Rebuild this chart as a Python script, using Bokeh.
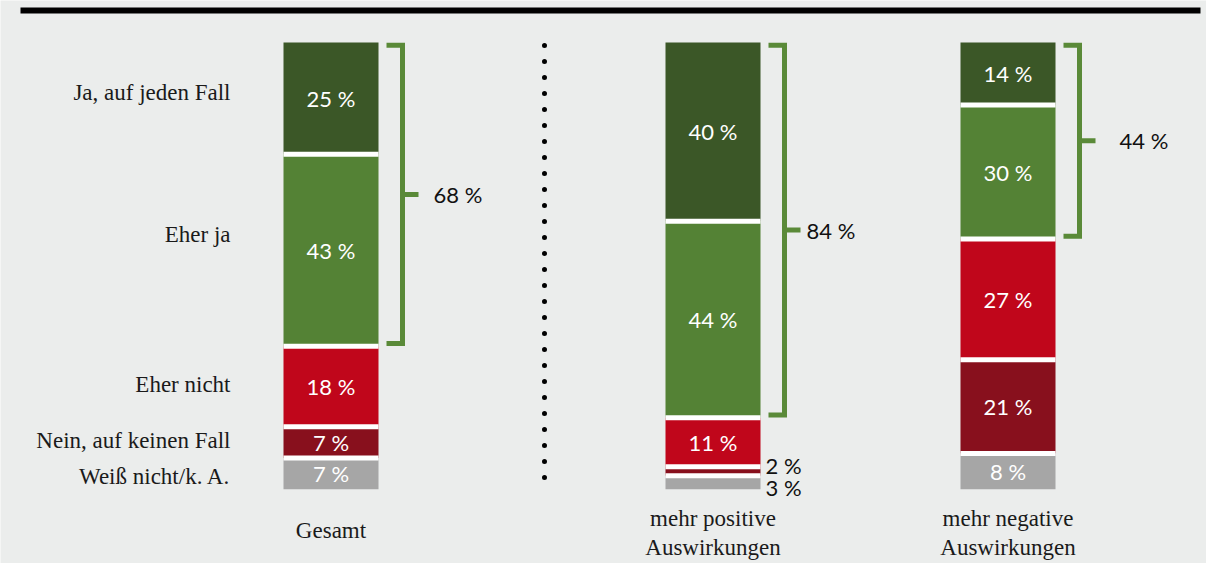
import numpy as np
from bokeh.plotting import figure
from bokeh.models import Range1d, ColumnDataSource
from bokeh.core.properties import value
from bokeh.embed import file_html
from bokeh.resources import INLINE

# ---------------- data ----------------
answers = ["Ja, auf jeden Fall", "Eher ja", "Eher nicht", "Nein, auf keinen Fall", "Weiß nicht/k. A."]
groups = ["Gesamt", "mehr positive\nAuswirkungen", "mehr negative\nAuswirkungen"]
gesamt = [25, 43, 18, 7, 7]
mehr_positive = [40, 44, 11, 2, 3]
mehr_negative = [14, 30, 27, 21, 8]

# ---------------- style / layout ----------------
colors = ["#3B5727", "#548235", "#C0061B", "#88101D", "#A6A6A6"]
bracket_color = "#5A8A38"
bg = "#EBEDEC"
bar_x = [330.5, 712.5, 1007.5]       # bar centres (x axis in page pixels)
bar_w = 95
sum_label_dx = [55, 46, 64]           # distance of the bracket label from bar edge
cat_label_dy = [-6, -16, -2, -2, 3]   # fine tuning of the left answer labels
W, H = 1206, 563
PX = 4.467                            # pixels per percentage point
TOP_PAGE = 42                         # page y of the 100 % line
label_font = value("Lato")
serif = value("Liberation Serif")

def y_of(page_y):
    return 100 - (page_y - TOP_PAGE) / PX

p = figure(width=W, height=H, output_backend="svg", toolbar_location=None,
           x_range=Range1d(0, W), y_range=Range1d(y_of(H), y_of(0)),
           min_border=0, outline_line_color=None,
           background_fill_color=bg, border_fill_color=bg)
p.xaxis.visible = False
p.yaxis.visible = False
p.grid.visible = False

series = [gesamt, mehr_positive, mehr_negative]

# bars
for gx, vals in zip(bar_x, series):
    vals = np.array(vals, dtype=float)
    tops = 100 - np.concatenate([[0], np.cumsum(vals)[:-1]])
    bottoms = tops - vals
    src = ColumnDataSource(dict(x=[gx] * len(vals), top=tops, bottom=bottoms, color=colors))
    p.vbar(x="x", width=bar_w, top="top", bottom="bottom", fill_color="color",
           line_color=None, source=src)
    # white separators at internal boundaries
    inner = bottoms[:-1]
    p.segment(x0=[gx - bar_w / 2] * len(inner), x1=[gx + bar_w / 2] * len(inner),
              y0=inner, y1=inner, line_color="white", line_width=5)

    # value labels
    mids = (tops + bottoms) / 2
    small = vals < 5
    lab = [f"{int(v)} %" for v in vals]
    ins = ~small
    p.text(x=[gx] * int(ins.sum()), y=mids[ins], text=[l for l, s in zip(lab, small) if not s],
           text_color="white", text_font=label_font, text_font_size="22px",
           text_align="center", text_baseline="middle")
    if small.any():
        idx = np.where(small)[0]
        offs = [-6 if k == 0 else 5 for k in range(len(idx))]
        p.text(x=[gx + bar_w / 2 + 5] * len(idx), y=mids[idx], text=[lab[i] for i in idx],
               y_offset=offs, text_color="#111111", text_font=label_font,
               text_font_size="22px", text_align="left", text_baseline="middle")

    # bracket around the two "yes" answers
    yes = vals[0] + vals[1]
    right = gx + bar_w / 2
    inset = 0.6
    ytop, ybot = 100 - inset, 100 - yes + inset
    vx = right + 24
    p.line(x=[right + 8, vx, vx, right + 8], y=[ytop, ytop, ybot, ybot],
           line_color=bracket_color, line_width=5, line_join="miter")
    ymid = (ytop + ybot) / 2
    p.line(x=[vx, vx + 16], y=[ymid, ymid], line_color=bracket_color, line_width=5)

for gx, vals, dx in zip(bar_x, series, sum_label_dx):
    p.text(x=[gx + bar_w / 2 + dx], y=[100 - (vals[0] + vals[1]) / 2],
           text=[f"{vals[0] + vals[1]} %"], text_color="#111111", text_font=label_font,
           text_font_size="22px", text_align="left", text_baseline="middle")

# answer labels (left)
g = np.array(gesamt, dtype=float)
g_tops = 100 - np.concatenate([[0], np.cumsum(g)[:-1]])
g_mids = g_tops - g / 2
p.text(x=[230] * len(answers), y=g_mids, text=answers, y_offset=cat_label_dy,
       text_color="#1a1a1a", text_font=serif, text_font_size="23px",
       text_align="right", text_baseline="middle")

# group labels (bottom), one text per line
gx_l, gy_off, g_txt = [], [], []
for gx, name in zip(bar_x, groups):
    lines = name.split("\n")
    start = 41 if len(lines) == 1 else 29
    for k, ln in enumerate(lines):
        gx_l.append(gx)
        gy_off.append(start + 29 * k)
        g_txt.append(ln)
p.text(x=gx_l, y=[0] * len(gx_l), text=g_txt, y_offset=gy_off,
       text_color="#1a1a1a", text_font=serif, text_font_size="23px",
       text_align="center", text_baseline="middle")

# dotted separator
p.line(x=[544, 544], y=[y_of(45), 0], line_color="black", line_width=5,
       line_dash="0 16", line_cap="round")

# black rule at top
p.line(x=[20, 1200], y=[y_of(10), y_of(10)], line_color="black", line_width=6)

open("out.html", "w").write(file_html(p, INLINE))
